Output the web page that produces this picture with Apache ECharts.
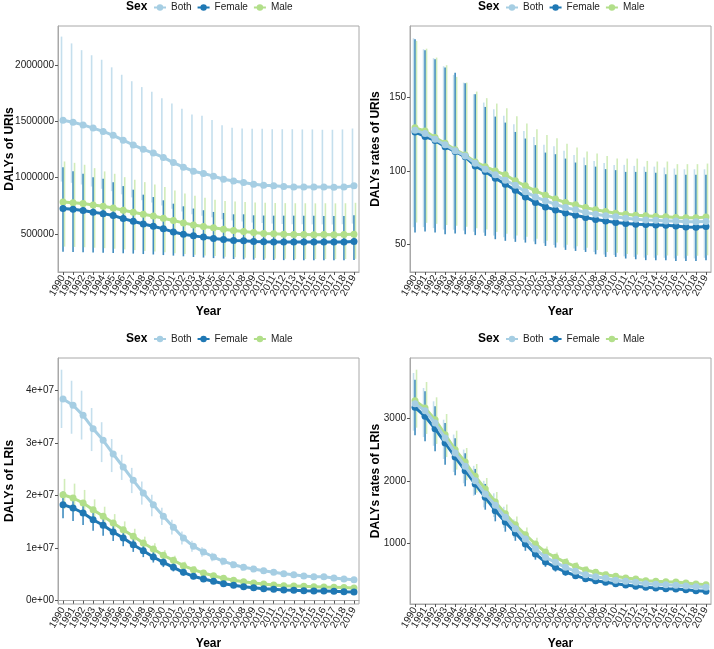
<!DOCTYPE html>
<html>
<head>
<meta charset="utf-8">
<script src="https://cdn.jsdelivr.net/npm/echarts@6/dist/echarts.min.js"></script>
<style>html,body{margin:0;padding:0;background:#fff}#c{width:714px;height:649px}</style>
</head>
<body>
<div id="c"></div>
<script>
const years = ['1990','1991','1992','1993','1994','1995','1996','1997','1998','1999','2000','2001','2002','2003','2004','2005','2006','2007','2008','2009','2010','2011','2012','2013','2014','2015','2016','2017','2018','2019'];
const sexes = ['Both','Female','Male'];

// Panel 1: DALYs of URIs
const urisBoth = [1510000,1492000,1468000,1440000,1410000,1376000,1333000,1290000,1252000,1218000,1180000,1134000,1093000,1058000,1038000,1014000,987000,971000,957000,943000,934000,928000,922000,919000,919000,918000,918000,915000,918000,928000];
const urisBothLo = [966000,955000,940000,922000,902000,881000,853000,826000,801000,780000,755000,726000,700000,677000,664000,649000,632000,621000,612000,604000,598000,594000,590000,588000,588000,587000,587000,586000,588000,594000];
const urisBothHi = [2250000,2190000,2130000,2085000,2045000,1978000,1912000,1855000,1803000,1762000,1705000,1658000,1610000,1560000,1550000,1512000,1465000,1442000,1436000,1434000,1434000,1430000,1430000,1430000,1428000,1428000,1425000,1425000,1428000,1436000];
const urisFemale = [727000,720000,709000,694000,682000,665000,638000,615000,590000,570000,547000,520000,500000,485000,474000,462000,453000,444000,441000,435000,432000,431000,431000,431000,431000,431000,431000,430000,430000,436000];
const urisFemaleLo = [344000,342000,340000,338000,336000,334000,331000,328000,324000,320000,315000,310000,304000,298000,293000,288000,284000,280000,277000,274000,272000,271000,270000,270000,270000,270000,270000,270000,270000,272000];
const urisFemaleHi = [1093000,1058000,1035000,1005000,990000,961000,926000,894000,850000,829000,800000,770000,747000,727000,712000,697000,688000,676000,676000,667000,665000,664000,664000,664000,663000,663000,662000,662000,662000,668000];
const urisMale = [785000,779000,771000,759000,747000,732000,712000,694000,676000,661000,641000,621000,600000,582000,568000,556000,544000,532000,524000,515000,506000,503000,500000,498000,497000,496000,497000,496000,497000,500000];
const urisMaleLo = [390000,387000,384000,380000,376000,371000,365000,359000,352000,346000,339000,332000,325000,318000,312000,306000,301000,296000,292000,288000,285000,283000,282000,281000,280000,280000,280000,279000,280000,282000];
const urisMaleHi = [1144000,1132000,1115000,1085000,1056000,1035000,1005000,982000,961000,940000,917000,888000,860000,840000,822000,806000,795000,790000,785000,780000,778000,776000,775000,774000,774000,773000,774000,773000,774000,778000];

// Panel 2: DALYs rates of URIs
const urisRateBoth = [127.8,125.5,121.6,117.8,113.8,110.2,105.2,101.1,97.3,93.6,90.2,85.7,82.2,79.5,77.2,74.9,73.4,71.5,70.4,69.3,68.6,67.7,67.0,66.5,66.3,65.8,65.8,65.2,65.2,65.4];
const urisRateBothLo = [61.5,61.6,60.9,59.9,59.8,59.2,58.4,57.8,55.8,54.6,53.6,53.0,51.7,50.5,49.3,47.7,46.9,46.0,44.5,42.8,42.6,41.6,41.2,40.7,40.6,40.6,40.2,40.2,40.2,40.6];
const urisRateBothHi = [190.6,183.1,177.0,171.5,165.6,160.3,152.4,146.7,142.1,137.6,131.9,127.3,123.2,117.8,116.9,113.7,110.9,109.1,106.8,105.3,104.1,104.1,103.4,102.9,102.9,102.3,101.6,101.1,101.1,101.1];
const urisRateFemale = [126.5,123.5,120.8,116.5,113.3,109.6,103.4,99.5,95.0,90.9,86.8,82.2,78.4,75.4,73.2,71.3,69.7,68.1,66.7,65.8,64.7,64.0,63.6,63.3,63.1,62.9,62.4,61.7,61.5,62.0];
const urisRateFemaleLo = [57.9,58.6,57.9,56.7,57.2,56.7,56.1,55.6,53.3,52.2,51.5,51.0,49.9,48.7,47.6,46.0,45.3,44.6,43.0,41.2,41.2,40.1,39.6,39.0,39.0,39.0,38.5,38.5,38.5,39.0];
const urisRateFemaleHi = [190.0,182.4,176.3,170.6,167.1,159.9,152.4,143.7,137.1,133.0,126.6,122.1,117.6,112.5,111.4,108.4,105.7,103.9,102.9,101.2,100.5,99.3,99.3,99.3,98.8,97.7,97.3,97.3,97.3,97.3];
const urisRateMale = [129.4,127.3,122.8,118.9,114.5,110.9,106.1,102.9,100.0,97.3,93.2,89.8,86.3,83.4,80.7,78.4,76.8,74.9,73.4,72.2,71.1,70.4,69.7,69.3,68.8,68.6,68.1,67.9,67.9,68.4];
const urisRateMaleLo = [64.7,64.5,63.8,63.0,62.5,61.8,60.8,60.0,58.3,57.0,55.8,55.0,53.6,52.3,51.0,49.5,48.5,47.5,46.0,44.5,44.0,43.2,42.8,42.4,42.3,42.2,42.0,42.0,42.0,42.3];
const urisRateMaleHi = [188.8,183.5,177.4,172.2,164.2,160.3,154.2,149.7,146.0,142.8,137.4,132.3,128.5,124.6,122.3,118.6,115.9,113.2,111.8,110.2,108.4,108.4,108.4,106.8,106.4,106.4,104.6,104.6,104.6,105.0];

// Panel 3: DALYs of LRIs
const lrisBoth = [38420000,37220000,35310000,32770000,30550000,27940000,25470000,22930000,20510000,18290000,16080000,13980000,11940000,10360000,9280000,8320000,7500000,6860000,6360000,6040000,5710000,5410000,5140000,4950000,4700000,4570000,4570000,4320000,4130000,4000000];
const lrisBothLo = [32900000,31800000,30700000,28500000,26400000,24500000,23000000,20500000,18300000,16100000,14400000,12600000,10700000,9300000,8350000,7500000,6750000,6170000,5720000,5440000,5140000,4870000,4630000,4460000,4230000,4110000,4110000,3890000,3720000,3600000];
const lrisBothHi = [44000000,41900000,40000000,36700000,34000000,30800000,27800000,25300000,22700000,20200000,17700000,15400000,13200000,11400000,10200000,9150000,8250000,7550000,7000000,6640000,6280000,5950000,5650000,5450000,5170000,5030000,5030000,4750000,4540000,4400000];
const lrisFemale = [18290000,17660000,16700000,15430000,14360000,13090000,11940000,10670000,9520000,8320000,7310000,6360000,5410000,4650000,4130000,3700000,3240000,2930000,2670000,2480000,2290000,2170000,2040000,1980000,1900000,1850000,1850000,1790000,1710000,1660000];
const lrisFemaleLo = [15700000,15200000,14400000,13300000,12350000,11350000,10380000,9300000,8300000,7270000,6400000,5580000,4760000,4100000,3650000,3280000,2880000,2610000,2380000,2220000,2050000,1950000,1830000,1780000,1710000,1670000,1670000,1610000,1540000,1490000];
const lrisFemaleHi = [20800000,20100000,19000000,17600000,16400000,14900000,13600000,12100000,10800000,9400000,8250000,7150000,6070000,5200000,4610000,4120000,3600000,3250000,2960000,2740000,2530000,2390000,2250000,2180000,2090000,2030000,2030000,1970000,1880000,1830000];
const lrisMale = [20190000,19560000,18610000,17330000,16080000,14800000,13520000,12270000,10990000,9850000,8650000,7700000,6670000,5910000,5280000,4760000,4270000,3890000,3620000,3370000,3180000,2990000,2860000,2800000,2740000,2670000,2600000,2550000,2500000,2420000];
const lrisMaleLo = [17500000,17000000,16200000,15200000,14100000,13000000,11900000,10800000,9700000,8700000,7650000,6800000,5900000,5230000,4680000,4220000,3790000,3450000,3210000,2990000,2820000,2650000,2540000,2480000,2430000,2370000,2310000,2260000,2220000,2150000];
const lrisMaleHi = [23200000,22300000,21100000,19300000,17900000,16500000,15100000,13700000,12200000,10950000,9600000,8550000,7400000,6550000,5850000,5280000,4740000,4310000,4010000,3730000,3520000,3310000,3170000,3100000,3030000,2960000,2880000,2820000,2770000,2680000];

// Panel 4: DALYs rates of LRIs
const lrisRateBoth = [3234,3122,2925,2685,2445,2232,2002,1789,1608,1416,1234,1069,909,776,696,616,552,498,466,440,408,392,376,354,344,338,328,317,306,296];
const lrisRateBothLo = [2802,2700,2560,2350,2140,1960,1760,1575,1420,1250,1090,945,803,686,615,544,488,440,412,389,361,346,332,313,304,299,290,280,270,262];
const lrisRateBothHi = [3725,3485,3272,2978,2740,2500,2240,2000,1800,1585,1380,1195,1015,866,777,688,616,556,520,491,455,438,420,395,384,377,366,354,342,330];
const lrisRateFemale = [3176,3032,2834,2605,2381,2162,1949,1736,1522,1341,1165,989,829,701,616,541,482,434,402,376,354,333,312,296,285,274,269,258,242,232];
const lrisRateFemaleLo = [2728,2632,2472,2258,2088,1912,1778,1538,1352,1186,1040,880,738,624,548,482,429,386,358,335,315,296,278,263,254,244,239,230,215,206];
const lrisRateFemaleHi = [3618,3432,3192,2925,2680,2440,2190,1950,1710,1505,1310,1110,930,785,690,605,540,486,450,421,396,373,349,331,319,307,301,289,271,260];
const lrisRateMale = [3282,3165,2978,2738,2498,2301,2072,1869,1661,1474,1298,1138,989,861,776,696,632,573,536,498,472,445,429,402,392,386,381,365,349,338];
const lrisRateMaleLo = [2850,2750,2590,2380,2180,2010,1810,1635,1455,1290,1135,995,865,753,679,609,553,501,469,436,413,389,375,352,343,338,333,319,305,296];
const lrisRateMaleHi = [3778,3581,3336,3069,2802,2525,2269,2045,1821,1620,1430,1255,1090,950,855,767,697,632,591,549,520,491,473,443,432,426,420,402,385,373];

const yTicks1 = [500000,1000000,1500000,2000000];
const yTicks2 = [50,100,150];
const yTicks3 = [0,10000000,20000000,30000000,40000000];
const yTicks4 = [1000,2000,3000];
const yTitles = ['DALYs of URIs','DALYs rates of URIs','DALYs of LRIs','DALYs rates of LRIs'];

const colors = {Both:'#A6CEE3', Female:'#1F78B4', Male:'#B2DF8A'};
const ebColors = {Both:'rgba(166,206,227,0.65)', Female:'rgba(31,120,180,0.85)', Male:'rgba(178,223,138,0.6)'};
const ebOffset = {Both:-1.5, Female:0, Male:1.5};
const FONT = "'Liberation Sans', Arial, sans-serif";

const panels = [
  {left:58, top:26, min:165000, max:2344000, ticks:yTicks1, gap:42, fmt:v=>String(v),
   d:{Both:[urisBoth,urisBothLo,urisBothHi],Female:[urisFemale,urisFemaleLo,urisFemaleHi],Male:[urisMale,urisMaleLo,urisMaleHi]}},
  {left:410, top:26, min:30.9, max:199.0, ticks:yTicks2, gap:28, fmt:v=>String(v),
   d:{Both:[urisRateBoth,urisRateBothLo,urisRateBothHi],Female:[urisRateFemale,urisRateFemaleLo,urisRateFemaleHi],Male:[urisRateMale,urisRateMaleLo,urisRateMaleHi]}},
  {left:58, top:358, min:-630000, max:46230000, ticks:yTicks3, gap:42, fmt:v=>(v===0?'0e+00':(v/1e7)+'e+07'),
   d:{Both:[lrisBoth,lrisBothLo,lrisBothHi],Female:[lrisFemale,lrisFemaleLo,lrisFemaleHi],Male:[lrisMale,lrisMaleLo,lrisMaleHi]}},
  {left:410, top:358, min:29, max:3965, ticks:yTicks4, gap:28, fmt:v=>String(v),
   d:{Both:[lrisRateBoth,lrisRateBothLo,lrisRateBothHi],Female:[lrisRateFemale,lrisRateFemaleLo,lrisRateFemaleHi],Male:[lrisRateMale,lrisRateMaleLo,lrisRateMaleHi]}}
];

const grid = [], xAxis = [], yAxis = [], series = [], legend = [], graphic = [];
const W = 301, H = 246;
panels.forEach((p, i) => {
  grid.push({left:p.left, top:p.top, width:W, height:H, show:true, borderColor:'#a8a8a8', borderWidth:1,
    backgroundColor:'#fff', containLabel:false, outerBoundsMode:'none'});
  xAxis.push({type:'category', gridIndex:i, data:years, boundaryGap:true,
    name:'Year', nameLocation:'middle', nameGap:34, nameMoveOverlap:false,
    nameTextStyle:{fontFamily:FONT, fontWeight:'bold', fontSize:12, color:'#000'},
    axisLine:{show:true, lineStyle:{color:'#a8a8a8', width:1}},
    axisTick:{show:true, alignWithLabel:true, length:3, lineStyle:{color:'#555'}},
    axisLabel:{interval:0, rotate:60, fontSize:10, fontFamily:FONT, color:'#222', margin:4},
    splitLine:{show:false}});
  yAxis.push({type:'value', gridIndex:i, min:p.min, max:p.max,
    name:yTitles[i], nameLocation:'middle', nameGap:p.gap, nameMoveOverlap:false,
    nameTextStyle:{fontFamily:FONT, fontWeight:'bold', fontSize:12, color:'#000'},
    axisLine:{show:true, lineStyle:{color:'#a8a8a8', width:1}},
    axisTick:{show:true, length:3, customValues:p.ticks, lineStyle:{color:'#555'}},
    axisLabel:{customValues:p.ticks, formatter:p.fmt, fontSize:10, fontFamily:FONT, color:'#222', margin:4},
    splitLine:{show:false}});
  ['Male','Female','Both'].forEach((s, k) => {
    series.push({type:'line', name:s, xAxisIndex:i, yAxisIndex:i, data:p.d[s][0],
      symbol:'circle', symbolSize:7, showSymbol:true,
      lineStyle:{color:colors[s], width:3}, itemStyle:{color:colors[s]},
      z:10+k, animation:false, silent:true});
  });
  sexes.forEach(s => {
    const lo = p.d[s][1], hi = p.d[s][2];
    const data = years.map((y, j) => [j, lo[j], hi[j]]);
    series.push({type:'custom', name:s+' UI', xAxisIndex:i, yAxisIndex:i, data:data, z:2, animation:false, silent:true,
      renderItem:(params, api) => {
        const a = api.coord([api.value(0), api.value(1)]);
        const b = api.coord([api.value(0), api.value(2)]);
        const o = ebOffset[s];
        return {type:'line', shape:{x1:a[0]+o, y1:a[1], x2:b[0]+o, y2:b[1]},
          style:{stroke:ebColors[s], lineWidth:1.6}};
      }});
  });
  const top = p.top < 100;
  legend.push({data:sexes, left:p.left+95, top:top ? 2.5 : 334, padding:0, orient:'horizontal', itemWidth:12, itemHeight:8, itemGap:5,
    selectedMode:false, textStyle:{fontFamily:FONT, fontSize:10, color:'#222'}});
  graphic.push({type:'text', left:p.left+68, top:top ? 1 : 333, style:{text:'Sex', font:'bold 12px '+FONT, fill:'#000'}});
});

const chart = echarts.init(document.getElementById('c'), null, {renderer:'canvas'});
chart.setOption({animation:false, backgroundColor:'#fff', grid, xAxis, yAxis, series, legend, graphic});
</script>
</body>
</html>
